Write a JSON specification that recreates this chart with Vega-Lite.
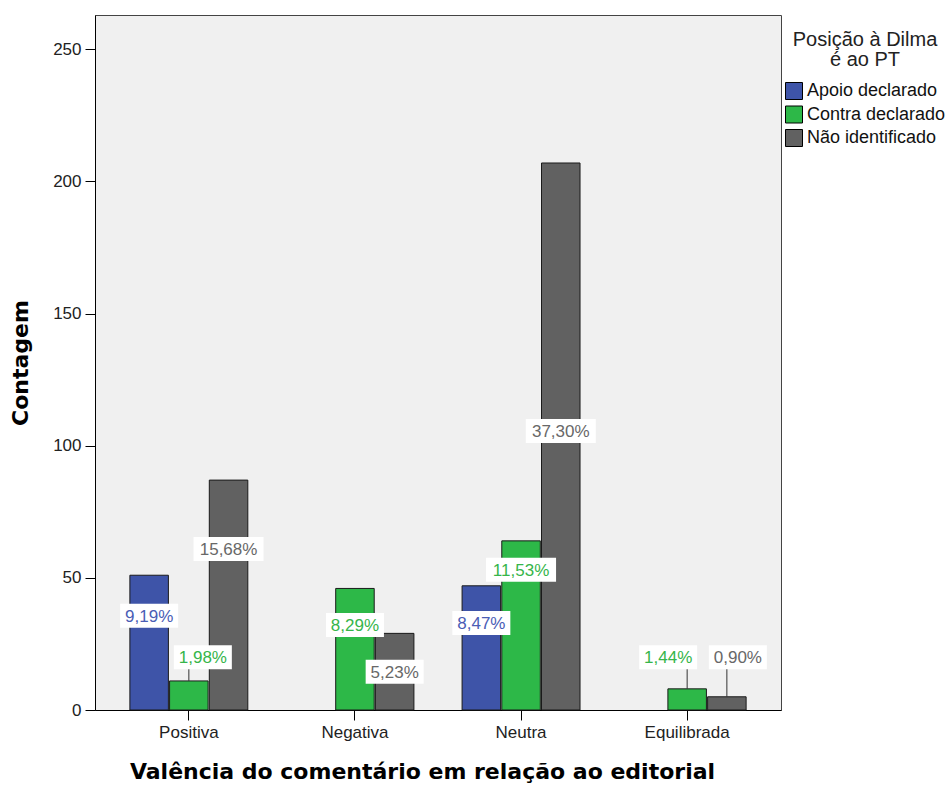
{
  "$schema": "https://vega.github.io/schema/vega-lite/v6.json",
  "width": 686,
  "height": 695,
  "autosize": {"type": "none"},
  "padding": {"left": 95, "top": 15, "right": 168, "bottom": 75},
  "background": "white",
  "config": {
    "font": "Liberation Sans",
    "view": {"fill": "#f0f0f0", "stroke": "#444444", "strokeWidth": 1},
    "axis": {
      "grid": false,
      "domainColor": "#000000",
      "tickColor": "#000000",
      "tickSize": 10,
      "labelFont": "Liberation Sans",
      "labelFontSize": 17,
      "labelColor": "#222222",
      "labelPadding": 4,
      "titleFont": "DejaVu Sans",
      "titleFontSize": 22,
      "titleFontWeight": "bold",
      "titleColor": "#000000"
    },
    "legend": {
      "orient": "none",
      "legendX": 690,
      "legendY": 15,
      "titleFont": "Liberation Sans",
      "titleFontSize": 20,
      "titleFontWeight": "normal",
      "titleColor": "#222222",
      "titleAlign": "center",
      "titleAnchor": "middle",
      "titleLineHeight": 20,
      "titlePadding": 12,
      "labelFont": "Liberation Sans",
      "labelFontSize": 18,
      "labelColor": "#111111",
      "labelOffset": 4,
      "symbolType": "square",
      "symbolSize": 289,
      "symbolStrokeColor": "#000000",
      "symbolStrokeWidth": 1,
      "symbolOpacity": 1,
      "rowPadding": 1.5
    }
  },
  "data": {
    "values": [
      {"valencia": "Positiva", "posicao": "Apoio declarado", "count": 51, "pct": "9,19%"},
      {"valencia": "Positiva", "posicao": "Contra declarado", "count": 11, "pct": "1,98%"},
      {"valencia": "Positiva", "posicao": "Não identificado", "count": 87, "pct": "15,68%"},
      {"valencia": "Negativa", "posicao": "Contra declarado", "count": 46, "pct": "8,29%"},
      {"valencia": "Negativa", "posicao": "Não identificado", "count": 29, "pct": "5,23%"},
      {"valencia": "Neutra", "posicao": "Apoio declarado", "count": 47, "pct": "8,47%"},
      {"valencia": "Neutra", "posicao": "Contra declarado", "count": 64, "pct": "11,53%"},
      {"valencia": "Neutra", "posicao": "Não identificado", "count": 207, "pct": "37,30%"},
      {"valencia": "Equilibrada", "posicao": "Contra declarado", "count": 8, "pct": "1,44%"},
      {"valencia": "Equilibrada", "posicao": "Não identificado", "count": 5, "pct": "0,90%"}
    ]
  },
  "transform": [
    {"calculate": "datum.count >= 100 ? datum.count * 0.51 : (datum.count >= 60 && datum.count < 80) ? datum.count * 0.83 : datum.count >= 40 ? datum.count * 0.7 : datum.count >= 20 ? datum.count * 0.5 : 20", "as": "labelY"},
    {"calculate": "datum.count < 15 ? (datum.posicao == 'Não identificado' ? 11 : (datum.valencia == 'Equilibrada' ? -19 : 14)) : 0", "as": "shift"},
    {"calculate": "length(datum.pct) > 5 ? 70 : 58", "as": "bw"},
    {"calculate": "datum.bw * datum.bw", "as": "boxSize"},
    {"calculate": "'M' + (-1 + 2 * datum.shift / datum.bw) + ',' + (-24 / datum.bw) + 'L' + (1 + 2 * datum.shift / datum.bw) + ',' + (-24 / datum.bw) + 'L' + (1 + 2 * datum.shift / datum.bw) + ',' + (24 / datum.bw) + 'L' + (-1 + 2 * datum.shift / datum.bw) + ',' + (24 / datum.bw) + 'Z'", "as": "boxPath"}
  ],
  "encoding": {
    "x": {
      "field": "valencia",
      "type": "nominal",
      "scale": {"domain": ["Positiva", "Negativa", "Neutra", "Equilibrada"], "paddingInner": 0.29, "paddingOuter": 0.21},
      "axis": {"labelAngle": 0, "titlePadding": 21, "titleX": 327},
      "title": "Valência do comentário em relação ao editorial"
    },
    "xOffset": {
      "field": "posicao",
      "type": "nominal",
      "scale": {"domain": ["Apoio declarado", "Contra declarado", "Não identificado"], "paddingInner": 0.03, "paddingOuter": 0}
    }
  },
  "layer": [
    {
      "mark": {"type": "bar", "stroke": "#1a1a1a", "strokeWidth": 1, "opacity": 1},
      "encoding": {
        "y": {
          "field": "count",
          "type": "quantitative",
          "scale": {"domain": [0, 263], "nice": false, "zero": true},
          "axis": {"values": [0, 50, 100, 150, 200, 250], "titlePadding": 20},
          "title": "Contagem"
        },
        "color": {
          "field": "posicao",
          "type": "nominal",
          "scale": {"domain": ["Apoio declarado", "Contra declarado", "Não identificado"], "range": ["#3e54a8", "#2db848", "#616161"]},
          "title": ["Posição à Dilma", "é ao PT"]
        }
      }
    },
    {
      "transform": [{"filter": "datum.count < datum.labelY"}],
      "mark": {"type": "rule", "color": "#333333", "strokeWidth": 1},
      "encoding": {
        "y": {"field": "count", "type": "quantitative", "title": "Contagem", "axis": {"values": [0, 50, 100, 150, 200, 250], "titlePadding": 20}},
        "y2": {"field": "labelY"}
      }
    },
    {
      "mark": {"type": "point", "filled": true, "fill": "#ffffff", "opacity": 1, "strokeWidth": 0},
      "encoding": {
        "y": {"field": "labelY", "type": "quantitative", "title": "Contagem", "axis": {"values": [0, 50, 100, 150, 200, 250], "titlePadding": 20}},
        "shape": {"field": "boxPath", "type": "nominal", "scale": null, "legend": null},
        "size": {"field": "boxSize", "type": "quantitative", "scale": null, "legend": null}
      }
    },
    {
      "mark": {"type": "text", "font": "Liberation Sans", "fontSize": 17, "align": "center", "baseline": "middle", "dy": 1, "dx": {"expr": "datum.shift"}},
      "encoding": {
        "y": {"field": "labelY", "type": "quantitative", "title": "Contagem", "axis": {"values": [0, 50, 100, 150, 200, 250], "titlePadding": 20}},
        "text": {"field": "pct", "type": "nominal"},
        "color": {
          "condition": [
            {"test": "datum.posicao == 'Apoio declarado'", "value": "#4a5db5"},
            {"test": "datum.posicao == 'Contra declarado'", "value": "#36b54a"}
          ],
          "value": "#686868"
        }
      }
    }
  ]
}
